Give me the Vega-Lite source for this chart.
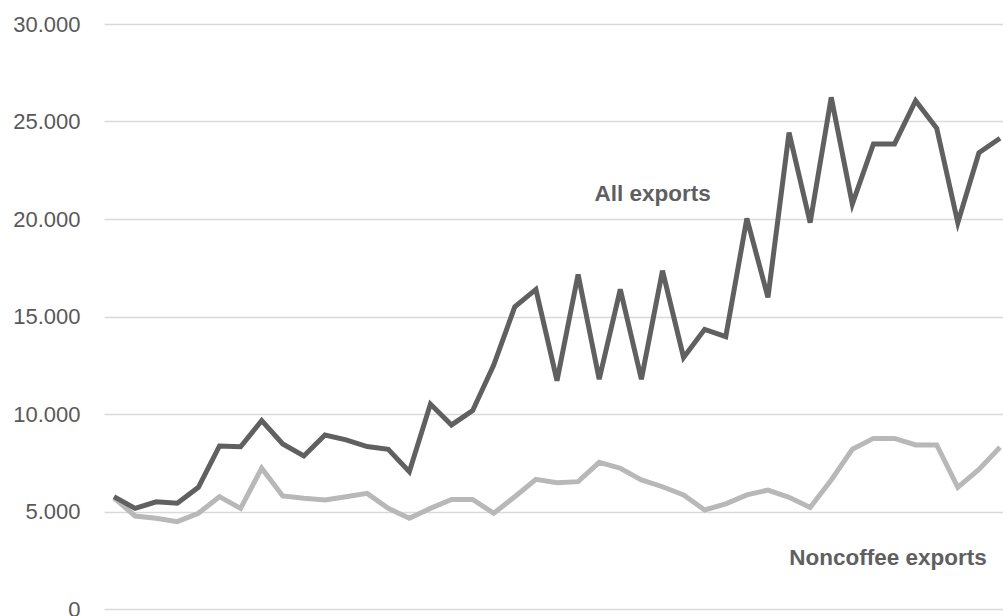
{
  "$schema": "https://vega.github.io/schema/vega-lite/v6.json",
  "width": 899,
  "height": 585,
  "autosize": {"type": "none"},
  "padding": {"left": 104, "top": 24, "right": 0, "bottom": 7},
  "background": "white",
  "config": {"view": {"stroke": null}, "font": "Liberation Sans"},
  "datasets": {
    "series": [
      {"i": 0, "all": 5760, "noncoffee": 5700},
      {"i": 1, "all": 5160, "noncoffee": 4770},
      {"i": 2, "all": 5500, "noncoffee": 4650},
      {"i": 3, "all": 5420, "noncoffee": 4480},
      {"i": 4, "all": 6240, "noncoffee": 4910},
      {"i": 5, "all": 8360, "noncoffee": 5760},
      {"i": 6, "all": 8320, "noncoffee": 5160},
      {"i": 7, "all": 9660, "noncoffee": 7220},
      {"i": 8, "all": 8460, "noncoffee": 5800},
      {"i": 9, "all": 7850, "noncoffee": 5680},
      {"i": 10, "all": 8920, "noncoffee": 5590},
      {"i": 11, "all": 8670, "noncoffee": 5760},
      {"i": 12, "all": 8330, "noncoffee": 5930},
      {"i": 13, "all": 8190, "noncoffee": 5160},
      {"i": 14, "all": 7040, "noncoffee": 4650},
      {"i": 15, "all": 10510, "noncoffee": 5160},
      {"i": 16, "all": 9440, "noncoffee": 5620},
      {"i": 17, "all": 10170, "noncoffee": 5620},
      {"i": 18, "all": 12510, "noncoffee": 4910},
      {"i": 19, "all": 15500, "noncoffee": 5760},
      {"i": 20, "all": 16390, "noncoffee": 6650},
      {"i": 21, "all": 11710, "noncoffee": 6480},
      {"i": 22, "all": 17160, "noncoffee": 6530},
      {"i": 23, "all": 11780, "noncoffee": 7520},
      {"i": 24, "all": 16390, "noncoffee": 7220},
      {"i": 25, "all": 11780, "noncoffee": 6620},
      {"i": 26, "all": 17350, "noncoffee": 6270},
      {"i": 27, "all": 12900, "noncoffee": 5850},
      {"i": 28, "all": 14340, "noncoffee": 5080},
      {"i": 29, "all": 13970, "noncoffee": 5390},
      {"i": 30, "all": 20030, "noncoffee": 5850},
      {"i": 31, "all": 15980, "noncoffee": 6100},
      {"i": 32, "all": 24430, "noncoffee": 5730},
      {"i": 33, "all": 19810, "noncoffee": 5210},
      {"i": 34, "all": 26240, "noncoffee": 6620},
      {"i": 35, "all": 20770, "noncoffee": 8190},
      {"i": 36, "all": 23850, "noncoffee": 8750},
      {"i": 37, "all": 23850, "noncoffee": 8750},
      {"i": 38, "all": 26070, "noncoffee": 8410},
      {"i": 39, "all": 24650, "noncoffee": 8410},
      {"i": 40, "all": 19810, "noncoffee": 6240},
      {"i": 41, "all": 23400, "noncoffee": 7160},
      {"i": 42, "all": 24140, "noncoffee": 8290}
    ],
    "labels": [
      {"label": "All exports", "i": 25.53, "v": 20920},
      {"label": "Noncoffee exports", "i": 36.69, "v": 2260}
    ]
  },
  "layer": [
    {
      "data": {"name": "series"},
      "mark": {"type": "line", "color": "#b8b8b8", "strokeWidth": 5, "strokeJoin": "miter", "strokeCap": "butt"},
      "encoding": {
        "x": {"field": "i", "type": "quantitative", "scale": {"domain": [-0.474, 42.142], "nice": false, "zero": false}, "axis": null},
        "y": {
          "field": "noncoffee", "type": "quantitative",
          "scale": {"domain": [0, 30000], "nice": false},
          "axis": {
            "title": null, "values": [0, 5000, 10000, 15000, 20000, 25000, 30000],
            "labelExpr": "replace(format(datum.value, ','), ',', '.')",
            "domain": false, "ticks": false, "labelPadding": 24,
            "labelFontSize": 22, "labelColor": "#595959", "labelFont": "Liberation Sans",
            "grid": true, "gridColor": "#d9d9d9", "gridWidth": 1.5
          }
        }
      }
    },
    {
      "data": {"name": "series"},
      "mark": {"type": "line", "color": "#606060", "strokeWidth": 5, "strokeJoin": "miter", "strokeCap": "butt"},
      "encoding": {
        "x": {"field": "i", "type": "quantitative"},
        "y": {"field": "all", "type": "quantitative"}
      }
    },
    {
      "data": {"name": "labels"},
      "mark": {"type": "text", "fontWeight": "bold", "fontSize": 22.5, "color": "#5f5f5f", "align": "center", "baseline": "alphabetic", "font": "Liberation Sans"},
      "encoding": {
        "x": {"field": "i", "type": "quantitative"},
        "y": {"field": "v", "type": "quantitative"},
        "text": {"field": "label"}
      }
    }
  ]
}
